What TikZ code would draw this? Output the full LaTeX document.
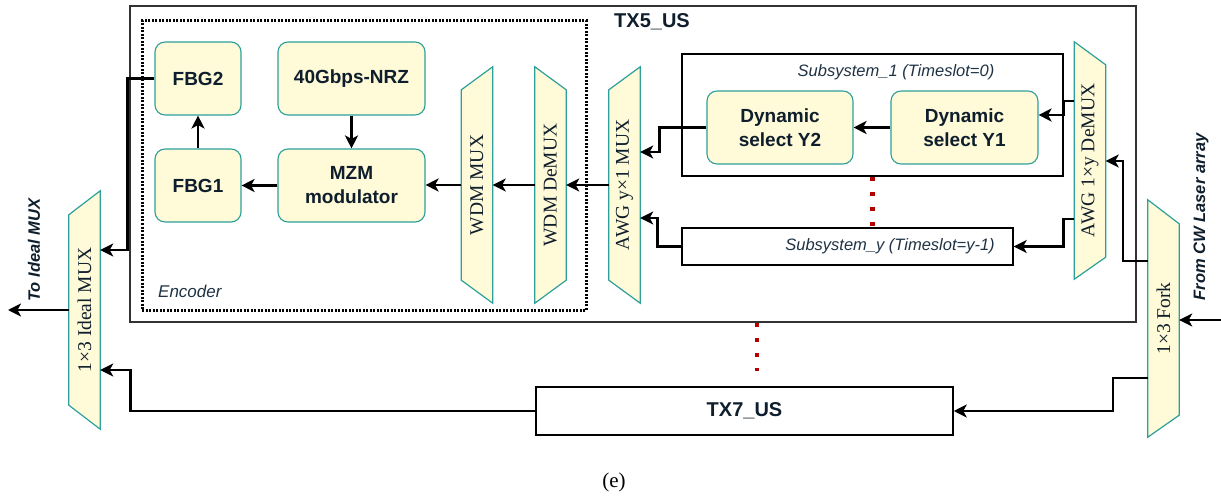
\documentclass[tikz,border=0pt]{standalone}
\usepackage{fontspec}
\setmainfont{Liberation Serif}
\newfontfamily\sansf{Liberation Sans}
\usetikzlibrary{arrows.meta,calc}

\definecolor{blockfill}{RGB}{255,250,215}
\definecolor{blockline}{RGB}{45,160,155}
\definecolor{inktext}{RGB}{14,30,44}
\definecolor{softink}{RGB}{30,50,68}
\definecolor{dotred}{RGB}{178,0,0}
\definecolor{framegray}{RGB}{50,50,50}

\tikzset{
  block/.style={draw=blockline, fill=blockfill, line width=1.1pt, rounded corners=10pt,
    align=center, inner sep=0pt, text=inktext,
    font=\sansf\bfseries\fontsize{19}{24}\selectfont},
  trapframe/.style={inner sep=0pt, minimum width=31pt},
  trapshape/.style={draw=blockline, fill=blockfill, line width=1.2pt},
  traplabel/.style={rotate=90, inner sep=0pt, text=inktext, font=\fontsize{19.5}{19.5}\selectfont},
  subbox/.style={draw=black, line width=1.3pt, inner sep=0pt},
  sublabel/.style={text=softink, inner sep=0pt, font=\sansf\itshape\fontsize{16.5}{16.5}\selectfont},
  heavylabel/.style={text=inktext, inner sep=0pt, font=\sansf\bfseries\fontsize{20}{20}\selectfont},
  sidelabel/.style={rotate=90, text=inktext, inner sep=0pt, font=\sansf\bfseries\itshape\fontsize{16.5}{16.5}\selectfont},
  conn/.style={line width=2.6pt, -{Stealth[length=13pt,width=13pt,inset=3.5pt]}},
  reddots/.style={draw=dotred, line width=4.5pt, dash pattern=on 4.5pt off 10.5pt},
}

\begin{document}
\begin{tikzpicture}[x=1pt, y=-1pt]
\useasboundingbox (0,0) rectangle (1221,497);

% TX5_US frame and the encoder group
\node[draw=framegray, line width=1.4pt, minimum width=1006pt, minimum height=316pt, inner sep=0pt] (tx5) at (633,164) {};
\node[heavylabel] (tx5label) at (652,22) {TX5\_US};
\node[draw=black, line width=3pt, dash pattern=on 2pt off 1.5pt, minimum width=444pt, minimum height=289pt, inner sep=0pt] (encoder) at (364,165.5) {};
\node[sublabel, anchor=west, font=\sansf\itshape\fontsize{17}{17}\selectfont] (enclabel) at (158,291) {Encoder};

% encoder blocks
\node[block, minimum width=86pt, minimum height=73pt] (fbg2) at (198,78.5) {FBG2};
\node[block, minimum width=86pt, minimum height=73pt] (fbg1) at (198,185.5) {FBG1};
\node[block, minimum width=147pt, minimum height=73pt] (nrz) at (351.5,78.5) {40Gbps-NRZ};
\node[block, minimum width=147pt, minimum height=73pt] (mzm) at (351.5,185.5) {MZM\\modulator};

% WDM MUX (wide side on the right)
\node[trapframe, minimum height=236pt] (wdmmux) at (477,185) {};
\draw[trapshape] (wdmmux.north east) -- (wdmmux.south east) -- ($(wdmmux.south west)+(0,-23)$) -- ($(wdmmux.north west)+(0,23)$) -- cycle;
\node[traplabel] at (wdmmux) {WDM MUX};

% WDM DeMUX (wide side on the left)
\node[trapframe, minimum height=236pt] (wdmdemux) at (550.5,185) {};
\draw[trapshape] (wdmdemux.north west) -- (wdmdemux.south west) -- ($(wdmdemux.south east)+(0,-23)$) -- ($(wdmdemux.north east)+(0,23)$) -- cycle;
\node[traplabel] at (wdmdemux) {WDM DeMUX};

% AWG y x 1 MUX
\node[trapframe, minimum height=236pt] (awgmux) at (624.5,185) {};
\draw[trapshape] (awgmux.north east) -- (awgmux.south east) -- ($(awgmux.south west)+(0,-23)$) -- ($(awgmux.north west)+(0,23)$) -- cycle;
\node[traplabel] at (awgmux) {AWG y×1 MUX};

% AWG 1 x y DeMUX
\node[trapframe, minimum height=237pt] (awgdemux) at (1090,160.5) {};
\draw[trapshape] (awgdemux.north west) -- (awgdemux.south west) -- ($(awgdemux.south east)+(0,-22)$) -- ($(awgdemux.north east)+(0,23)$) -- cycle;
\node[traplabel] at (awgdemux) {AWG 1×y DeMUX};

% subsystems
\node[subbox, minimum width=381pt, minimum height=122pt] (sub1) at (872.5,115) {};
\node[sublabel] (sub1label) at (896,72) {Subsystem\_1 (Timeslot=0)};
\node[block, minimum width=146pt, minimum height=73pt] (y2) at (780,127.5) {Dynamic\\select Y2};
\node[block, minimum width=147pt, minimum height=73pt] (y1) at (964.5,127.5) {Dynamic\\select Y1};
\node[subbox, minimum width=331pt, minimum height=37pt] (suby) at (847.5,246.5) {};
\node[sublabel] (subylabel) at (890,246.5) {Subsystem\_y (Timeslot=y-1)};

% 1x3 Ideal MUX
\node[trapframe, minimum height=238pt] (ideal) at (84.5,310) {};
\draw[trapshape] (ideal.north east) -- (ideal.south east) -- ($(ideal.south west)+(0,-24)$) -- ($(ideal.north west)+(0,24)$) -- cycle;
\node[traplabel] at (ideal) {1×3 Ideal MUX};

% 1x3 Fork
\node[trapframe, minimum height=237pt] (fork) at (1163.5,318.5) {};
\draw[trapshape] (fork.north west) -- (fork.south west) -- ($(fork.south east)+(0,-22)$) -- ($(fork.north east)+(0,24)$) -- cycle;
\node[traplabel] at (fork) {1×3 Fork};

% TX7_US
\node[draw=black, line width=1.5pt, minimum width=417pt, minimum height=48pt, inner sep=0pt,
      text=inktext, font=\sansf\bfseries\fontsize{20}{20}\selectfont] (tx7) at (744.5,411) {TX7\_US};

% side texts
\node[sidelabel] (tomux) at (34,250) {To Ideal MUX};
\node[sidelabel] (fromcw) at (1201,217) {From CW Laser array};
\coordinate (cwin) at (1221,320);
\coordinate (muxout) at (8,310);

% red ellipsis dots
\draw[reddots] (sub1.south) -- (suby.north -| sub1.south);
\draw[reddots] ($(tx5.south)+(124,0)$) -- ($(tx7.north)+(12.5,-15)$);

% connectors inside the encoder
\draw[conn] (fbg1) -- (fbg2);
\draw[conn] (nrz) -- (mzm);
\draw[conn] (mzm) -- (fbg1);
\draw[conn] (wdmmux.west) -- (wdmmux.west -| mzm.east);
\draw[conn] (wdmdemux.west) -- (wdmdemux.west -| wdmmux.east);
\draw[conn] (awgmux.west) -- (awgmux.west -| wdmdemux.east);

% subsystem connectors
\draw[conn] (y1) -- (y2);
\draw[conn] (y2.west) -- ++(-47,0) |- ($(awgmux.east)+(0,-33)$);
\draw[conn] (suby.west) -- ++(-24,0) |- ($(awgmux.east)+(0,33)$);
\draw[conn] ($(awgdemux.west)+(0,-59.5)$) -- ++(-11,0) |- ($(y1.east)+(0,-12.5)$);
\draw[conn] ($(awgdemux.west)+(0,58.5)$) -- ++(-11,0) |- (suby.east);

% fork, TX7 and output connectors
\draw[conn] (cwin) -- (cwin -| fork.east);
\draw[conn] ($(fork.west)+(0,-57.5)$) -- ++(-25,0) |- ($(awgdemux.east)+(0,0.5)$);
\draw[conn] ($(fork.west)+(0,59.5)$) -- ++(-35,0) |- (tx7.east);
\draw[conn] (fbg2.west) -- ++(-27,0) |- ($(ideal.east)+(0,-60)$);
\draw[conn] (tx7.west) -- ++(-405,0) |- ($(ideal.east)+(0,60)$);
\draw[conn] (ideal.west) -- (muxout);

% caption
\node[font=\fontsize{21}{21}\selectfont] (caption) at (614,482) {(e)};
\end{tikzpicture}
\end{document}
